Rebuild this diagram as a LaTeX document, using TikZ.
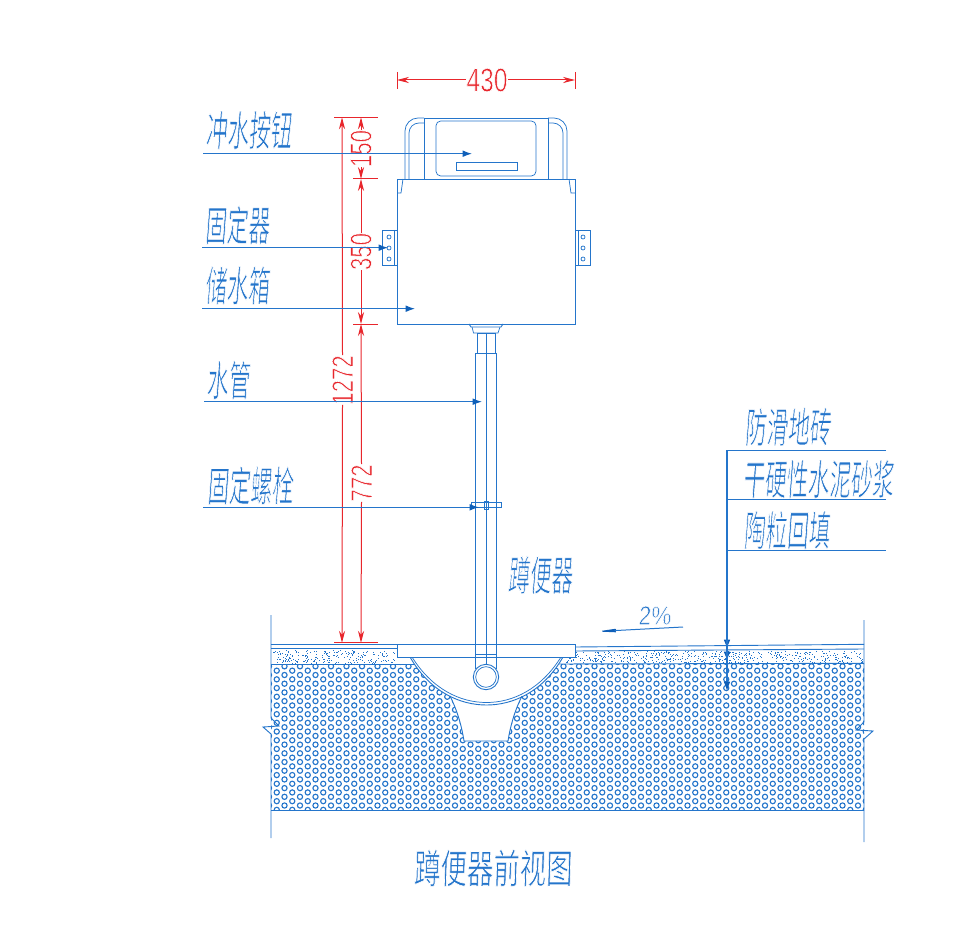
\documentclass[tikz,border=0pt]{standalone}
\usepackage{fontspec}
\usetikzlibrary{arrows.meta}
\newfontfamily\cjkN[FakeStretch=0.52,FakeSlant=0.07]{Noto Sans CJK SC}
\newfontfamily\cjkT[FakeStretch=0.66,FakeSlant=0.03]{Noto Sans CJK SC}
\newfontfamily\digN[FakeStretch=0.74]{Liberation Sans}
\newfontfamily\digS[FakeStretch=0.85,FakeSlant=0.06]{Liberation Sans}
\newcommand\thinned[1]{\special{pdf:code q 2 Tr 0.45 w 1 1 1 RG}#1\special{pdf:code Q}}
\definecolor{cadblue}{HTML}{2475CB}
\definecolor{cadtip}{HTML}{0F5FB8}
\definecolor{cadred}{HTML}{E8262C}
\tikzset{
  bl/.style={draw=cadblue,line width=0.68pt},
  blthin/.style={draw=cadblue,line width=0.55pt},
  leader/.style={draw=cadblue,line width=0.8pt,-{Latex[length=7pt,width=5pt,color=cadtip]}},
  rule/.style={draw=cadblue,line width=0.7pt},
  dim/.style={draw=cadred,line width=0.75pt},
  dimarrow/.style={dim,-{Stealth[length=9pt,width=4.6pt]}},
  lab/.style={inner sep=0pt,text=cadblue,font=\cjkN\fontsize{31}{31}\selectfont},
  ttl/.style={inner sep=0pt,text=cadblue,font=\cjkT\fontsize{30}{30}\selectfont},
  num/.style={inner sep=0pt,text=cadred,font=\digN\fontsize{22.5}{22.5}\selectfont},
  numb/.style={inner sep=0pt,text=cadred,font=\digN\fontsize{25}{25}\selectfont},
}
\begin{document}
\begin{tikzpicture}[x=0.75pt,y=-0.75pt]
\useasboundingbox (0,0) rectangle (977,934);
% --- fill pattern
\begin{scope}
\clip (271,664) rectangle (864,810);
\foreach \i in {0,...,39}{
 \foreach \j in {0,...,18}{
  \draw[cadblue,line width=0.85pt] (269+\i*15.5,657.6+\j*8.7) circle[radius=2.6];
  \draw[cadblue,line width=0.85pt] (276.75+\i*15.5,661.95+\j*8.7) circle[radius=2.6];
 }}
\end{scope}
% --- stipple
\pgfmathsetseed{7}
\foreach \k in {1,...,220}{
  \pgfmathsetmacro\px{273+rnd*123}
  \pgfmathsetmacro\py{650+rnd*13}
  \fill[cadblue] (\px,\py) rectangle ++(1,1);
}
\foreach \k in {1,...,500}{
  \pgfmathsetmacro\px{552+rnd*311}
  \pgfmathsetmacro\py{651+rnd*11.5}
  \fill[cadblue] (\px,\py) rectangle ++(1,1);
}
% --- floor lines
\draw[bl] (271,644) -- (397,644);
\draw[bl] (271,648.5) -- (397,648.5);
\draw[bl] (271,664) -- (420,664);
\draw[bl] (575,647) -- (864,644.3);
\draw[bl] (575,651) -- (864,649);
\draw[bl] (550,664) -- (864,663.3);
\draw[bl] (271,810) -- (864,810);
% --- walls with break marks
\draw[bl] (271,615) -- (271,718) -- (279,726) -- (263,727) -- (271,734) -- (271,838);
\draw[bl] (864,620) -- (864,722) -- (856,730) -- (873,731) -- (864,739) -- (864,842);
% --- bowl and outlet
\path[fill=white] (450,696) .. controls (458,712) and (462,728) .. (464,741) -- (508,741) .. controls (510,728) and (514,712) .. (522,696) -- cycle;
\path[fill=white] (410,657) .. controls (430,692) and (460,705) .. (486.5,705) .. controls (513,705) and (543,692) .. (563,657) -- cycle;
\draw[bl] (410,657) .. controls (430,692) and (460,705) .. (486.5,705) .. controls (513,705) and (543,692) .. (563,657);
\draw[blthin] (412,657) .. controls (432,689) and (460,702.5) .. (486.5,702.5) .. controls (513,702.5) and (541,689) .. (561,657);
\draw[bl] (450,696) .. controls (458,712) and (462,728) .. (464,741) -- (508,741) .. controls (510,728) and (514,712) .. (522,696);
% --- plate
\node[bl,fill=white,inner sep=0pt,minimum width=133.5pt,minimum height=9.75pt] (plate) at (486,650.5) {};
% --- pipe
\draw[bl] (477,333) rectangle (495,353);
\draw[bl] (475.7,353) -- (475.7,669);
\draw[bl] (496.3,353) -- (496.3,669);
\draw[bl] (475.7,353) -- (496.3,353);
\draw[blthin] (486,333) -- (486,664.5);
\draw[blthin] (475.7,654) -- (496.3,654) (475.7,657) -- (496.3,657);
\draw[bl,fill=white] (486,677) circle[radius=12.7];
\draw[blthin] (486,677) circle[radius=10.3];
\draw[blthin] (471,502) rectangle (501,507);
\draw[blthin] (484,501) rectangle (488,509);
% --- tank
\draw[bl] (397,179) rectangle (575,324);
\draw[blthin] (403,179) -- (401,193) -- (397,193);
\draw[blthin] (569,179) -- (571,193) -- (575,193);
\draw[bl] (469,324) -- (471,327) -- (501,327) -- (503,324);
\draw[blthin] (472,327) -- (473.5,333) -- (498,333) -- (500,327);
% --- side brackets
\draw[bl] (382,230) rectangle (397,265);
\draw[blthin] (394,230) -- (394,265);
\draw[bl] (575,230) rectangle (590,265);
\draw[blthin] (578,230) -- (578,265);
\foreach \hy in {237,248,259}{
  \draw[blthin] (389,\hy) circle[radius=2];
  \draw[blthin] (583,\hy) circle[radius=2];
}
% --- top unit
\draw[blthin] (405,179) -- (405,131) arc[start angle=180,end angle=90,x radius=13,y radius=-13] -- (424,118);
\draw[blthin] (409,179) -- (409,133) arc[start angle=180,end angle=90,x radius=10,y radius=-10] -- (424,123);
\draw[blthin] (567,179) -- (567,131) arc[start angle=0,end angle=90,x radius=13,y radius=-13] -- (548,118);
\draw[blthin] (563,179) -- (563,133) arc[start angle=0,end angle=90,x radius=10,y radius=-10] -- (548,123);
\draw[line width=0.72pt,draw=cadblue] (424,118) rectangle (548,179);
\draw[blthin,rounded corners=3.5pt] (436,121) rectangle (536,176);
\draw[blthin] (456,162.5) rectangle (517,170.5);
% --- dimensions, red
\coordinate (w1) at (397,80); \coordinate (w2) at (575,80);
\node[numb] (d430) at (487,80) {\thinned{430}};
\draw[dim] (397,72) -- (397,89) (575,72) -- (575,89);
\draw[dimarrow] (d430.west) -- (w1);
\draw[dimarrow] (d430.east) -- (w2);
\draw[dim] (334,117.3) -- (378,117.3);
\draw[dim] (353,179) -- (378,179);
\draw[dim] (353,324) -- (378,324);
\draw[dim,line width=1pt] (334,642.8) -- (378,642.8);
\coordinate (a1) at (342,117.3); \coordinate (a2) at (342,642.8);
\coordinate (b1) at (361,117.3); \coordinate (b2) at (361,179);
\coordinate (b3) at (361,324); \coordinate (b4) at (361,642.8);
\node[num,rotate=90] (d1272) at (342.5,380) {\thinned{1272}};
\node[num,rotate=90] (d150) at (361,148.5) {\thinned{150}};
\node[num,rotate=90] (d350) at (361,251.5) {\thinned{350}};
\node[num,rotate=90] (d772) at (361.5,483) {\thinned{772}};
\draw[dimarrow] (d1272.east) -- (a1);
\draw[dimarrow] (d1272.west) -- (a2);
\draw[dimarrow] (d150.east) -- (b1);
\draw[dimarrow] (d150.west) -- (b2);
\draw[dimarrow] (d350.east) -- (b2);
\draw[dimarrow] (d350.west) -- (b3);
\draw[dimarrow] (d772.east) -- (b3);
\draw[dimarrow] (d772.west) -- (b4);
% --- left labels and leaders
\node[lab] (t1) at (248.5,130) {\thinned{冲水按钮}};
\node[lab] (t2) at (237,225) {\thinned{固定器}};
\node[lab] (t3) at (237,285.5) {\thinned{储水箱}};
\node[lab] (t4) at (228,380) {\thinned{水管}};
\node[lab] (t5) at (250,485.5) {\thinned{固定螺栓}};
\node[lab] (t6) at (540,575) {\thinned{蹲便器}};
\coordinate (s1) at (203,153.7); \coordinate (e1) at (472,153.7);
\coordinate (s2) at (202,247.7); \coordinate (e2) at (388,247.7);
\coordinate (s3) at (202,308.7); \coordinate (e3) at (415,308.7);
\coordinate (s4) at (204,401.7); \coordinate (e4) at (482,401.7);
\coordinate (s5) at (203,507.3); \coordinate (e5) at (479,507.3);
\draw[leader] (s1) -- (e1);
\draw[leader] (s2) -- (e2);
\draw[leader] (s3) -- (e3);
\draw[leader] (s4) -- (e4);
\draw[leader] (s5) -- (e5);
% --- right labels
\coordinate (r0) at (727,450); \coordinate (r1) at (886,450);
\coordinate (r2) at (727,499); \coordinate (r3) at (886,499);
\coordinate (r4) at (727,550); \coordinate (r5) at (886,550);
\coordinate (p1) at (727,649); \coordinate (p2) at (727,661); \coordinate (p3) at (727,691);
\node[lab] (m1) at (787.5,427) {\thinned{防滑地砖}};
\node[lab] (m2) at (818,479) {\thinned{干硬性水泥砂浆}};
\node[lab] (m3) at (786.5,530) {\thinned{陶粒回填}};
\draw[rule] (r1) -- (r0) (r2) -- (r3) (r4) -- (r5);
\draw[leader] (r0) -- (p1);
\draw[leader] (r0) -- (p2);
\draw[leader] (r0) -- (p3);
% --- slope
\coordinate (sl1) at (683,627); \coordinate (sl2) at (597,631.5);
\draw[draw=cadblue,line width=0.75pt,-{Stealth[length=18pt,width=3.4pt,color=cadtip]}] (sl1) -- (sl2);
\node[inner sep=0pt,text=cadblue,font=\digS\fontsize{20}{20}\selectfont] (sl) at (654.5,615.5) {\thinned{2\%}};
% --- title
\node[ttl] (title) at (493,868) {\thinned{蹲便器前视图}};
\end{tikzpicture}
\end{document}
